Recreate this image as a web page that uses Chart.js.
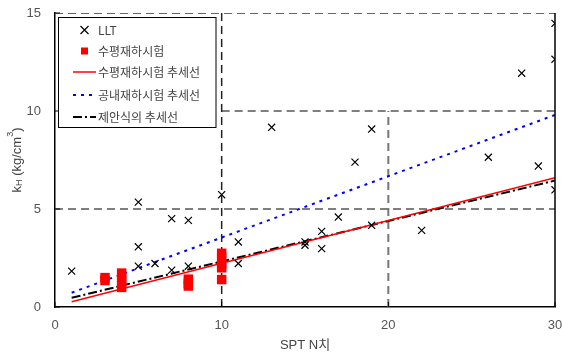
<!DOCTYPE html>
<html>
<head>
<meta charset="utf-8">
<script src="https://cdn.jsdelivr.net/npm/chart.js@4/dist/chart.umd.min.js"></script>
<style>
  html, body { margin: 0; padding: 0; background: #fff; }
  #wrap { width: 562px; height: 356px; }
</style>
</head>
<body>
<div id="wrap"><canvas id="chart"></canvas></div>
<script>
// LLT points (SPT N, kH)
const lltN  = [1, 5, 5, 5, 6, 7, 7, 8, 8, 10, 11, 11, 13, 15, 15, 16, 16, 17, 18, 19, 19, 22, 26, 28, 29, 30, 30, 30];
const lltKh = [1.83, 5.35, 3.07, 2.08, 2.22, 4.51, 1.88, 4.42, 2.08, 5.73, 3.32, 2.22, 9.17, 3.32, 3.15, 3.86, 2.98, 4.59, 7.39, 9.08, 4.17, 3.91, 7.64, 11.93, 7.19, 14.47, 12.64, 5.98];

// 수평재하시험 points
const plateN  = [3, 3, 4, 4, 4, 4, 8, 8, 8, 10, 10, 10, 10, 10];
const plateKh = [1.35, 1.5, 1.0, 1.25, 1.5, 1.73, 1.07, 1.2, 1.42, 1.4, 2.0, 2.2, 2.5, 2.74];

// trend lines: end points
const trendN = [1, 30];
const plateTrend = [0.27, 6.59];
const boreTrend = [0.73, 9.8];
const propTrend = [0.47, 6.45];

const xTicks = [0, 10, 20, 30];
const yTicks = [0, 5, 10, 15];

const labels = ["LLT", "수평재하시험", "수평재하시험 추세선", "공내재하시험 추세선", "제안식의 추세선"];

const pts = (xs, ys) => xs.map((x, i) => ({ x, y: ys[i] }));

function refLine(data, color, width) {
  return {
    data, showLine: true, pointRadius: 0, borderColor: color, borderWidth: width,
    borderDash: [8, 5], fill: false
  };
}

const datasets = [
  { label: labels[0], data: pts(lltN, lltKh), pointStyle: "crossRot", pointRadius: 5,
    borderColor: "#000", borderWidth: 1.2, backgroundColor: "#000" },
  { label: labels[1], data: pts(plateN, plateKh), pointStyle: "rect", pointRadius: 6.7,
    backgroundColor: "#ff0000", borderWidth: 0 },
  { label: labels[2], data: pts(trendN, plateTrend), showLine: true, pointRadius: 0,
    borderColor: "#ff0000", borderWidth: 1.5 },
  { label: labels[3], data: pts(trendN, boreTrend), showLine: true, pointRadius: 0,
    borderColor: "#0000ff", borderWidth: 2, borderDash: [3, 5] },
  { label: labels[4], data: pts(trendN, propTrend), showLine: true, pointRadius: 0,
    borderColor: "#000", borderWidth: 2, borderDash: [9, 3, 2, 3] },
  // dashed reference lines
  refLine([{ x: 10, y: 0 }, { x: 10, y: 15 }], "#222", 1.5),
  refLine([{ x: 20, y: 0 }, { x: 20, y: 10 }], "#777", 2),
  refLine([{ x: 0, y: 5 }, { x: 30, y: 5 }], "#555", 1.5),
  refLine([{ x: 10, y: 10 }, { x: 30, y: 10 }], "#555", 1.5),
  refLine([{ x: 0, y: 15 }, { x: 30, y: 15 }], "#666", 2),
];

const extras = {
  id: "extras",
  afterDraw(chart) {
    const ctx = chart.ctx;
    const a = chart.chartArea;
    const xs = chart.scales.x, ys = chart.scales.y;
    ctx.save();
    // right frame line
    ctx.strokeStyle = "#000";
    ctx.lineWidth = 1.5;
    ctx.beginPath();
    ctx.moveTo(a.right, a.top);
    ctx.lineTo(a.right, a.bottom);
    ctx.stroke();
    // inward ticks
    ctx.lineWidth = 1;
    ctx.beginPath();
    yTicks.forEach(v => {
      const py = ys.getPixelForValue(v);
      ctx.moveTo(a.left, py); ctx.lineTo(a.left + 5, py);
    });
    xTicks.forEach(v => {
      const px = xs.getPixelForValue(v);
      ctx.moveTo(px, a.bottom); ctx.lineTo(px, a.bottom - 5);
    });
    ctx.stroke();

    // y title with sub/superscript
    const big = "13px 'Liberation Sans', Arial, sans-serif";
    const small = "9px 'Liberation Sans', Arial, sans-serif";
    const parts = [["k", big, 0], ["H", small, 3], [" (kg/cm", big, 0], ["3", small, -6], [")", big, 0]];
    let total = 0;
    parts.forEach(p => { ctx.font = p[1]; total += ctx.measureText(p[0]).width; });
    ctx.translate(17, (a.top + a.bottom) / 2);
    ctx.rotate(-Math.PI / 2);
    ctx.fillStyle = "#444";
    ctx.textBaseline = "middle";
    let cx = -total / 2;
    parts.forEach(p => {
      ctx.font = p[1];
      ctx.fillText(p[0], cx, p[2]);
      cx += ctx.measureText(p[0]).width;
    });
    ctx.restore();

    // legend
    ctx.save();
    const bx = 58.5, by = 17.5, bw = 157.5, bh = 110;
    ctx.fillStyle = "#fff";
    ctx.fillRect(bx, by, bw, bh);
    ctx.strokeStyle = "#000";
    ctx.lineWidth = 1;
    ctx.strokeRect(bx, by, bw, bh);
    const rows = [30, 51, 72, 95, 117];
    ctx.font = "12px 'Noto Sans CJK KR', 'Liberation Sans', sans-serif";
    ctx.textBaseline = "middle";
    rows.forEach((ry, i) => {
      const ds = chart.data.datasets[i];
      ctx.setLineDash([]);
      if (i === 0) {
        ctx.strokeStyle = "#000"; ctx.lineWidth = 1.2;
        ctx.beginPath();
        ctx.moveTo(80.5, ry - 4); ctx.lineTo(88.5, ry + 4);
        ctx.moveTo(88.5, ry - 4); ctx.lineTo(80.5, ry + 4);
        ctx.stroke();
      } else if (i === 1) {
        ctx.fillStyle = ds.backgroundColor;
        ctx.fillRect(81, ry - 3.5, 7, 7);
      } else {
        ctx.strokeStyle = ds.borderColor;
        ctx.lineWidth = ds.borderWidth;
        ctx.setLineDash(ds.borderDash || []);
        ctx.beginPath();
        ctx.moveTo(73, ry); ctx.lineTo(96, ry);
        ctx.stroke();
      }
      ctx.fillStyle = "#444";
      ctx.fillText(labels[i], 98, ry);
    });
    ctx.restore();
  }
};

new Chart(document.getElementById("chart"), {
  type: "scatter",
  data: { datasets },
  options: {
    responsive: true,
    maintainAspectRatio: false,
    animation: false,
    layout: { padding: { top: 13, right: 7, left: 0, bottom: 0 } },
    plugins: { legend: { display: false }, tooltip: { enabled: false } },
    scales: {
      x: {
        type: "linear", min: 0, max: 30,
        afterFit: s => { s.height = 49; s.paddingLeft = 0; s.paddingRight = 0; },
        afterBuildTicks: s => { s.ticks = xTicks.map(v => ({ value: v })); },
        grid: { display: false, drawTicks: false },
        border: { color: "#000", width: 1.5 },
        ticks: { padding: 11, color: "#555", font: { size: 13, family: "'Liberation Sans', Arial, sans-serif" } },
        title: { display: true, text: "SPT N치", color: "#444", padding: { top: 0, bottom: 3 },
          font: { size: 13, family: "'Liberation Sans', 'Noto Sans CJK KR', sans-serif" } }
      },
      y: {
        type: "linear", min: 0, max: 15,
        afterFit: s => { s.width = 55; s.paddingTop = 0; s.paddingBottom = 0; },
        afterBuildTicks: s => { s.ticks = yTicks.map(v => ({ value: v })); },
        grid: { display: false, drawTicks: false },
        border: { color: "#000", width: 1.5 },
        ticks: { padding: 14, color: "#555", font: { size: 13, family: "'Liberation Sans', Arial, sans-serif" } }
      }
    }
  },
  plugins: [extras]
});
</script>
</body>
</html>
